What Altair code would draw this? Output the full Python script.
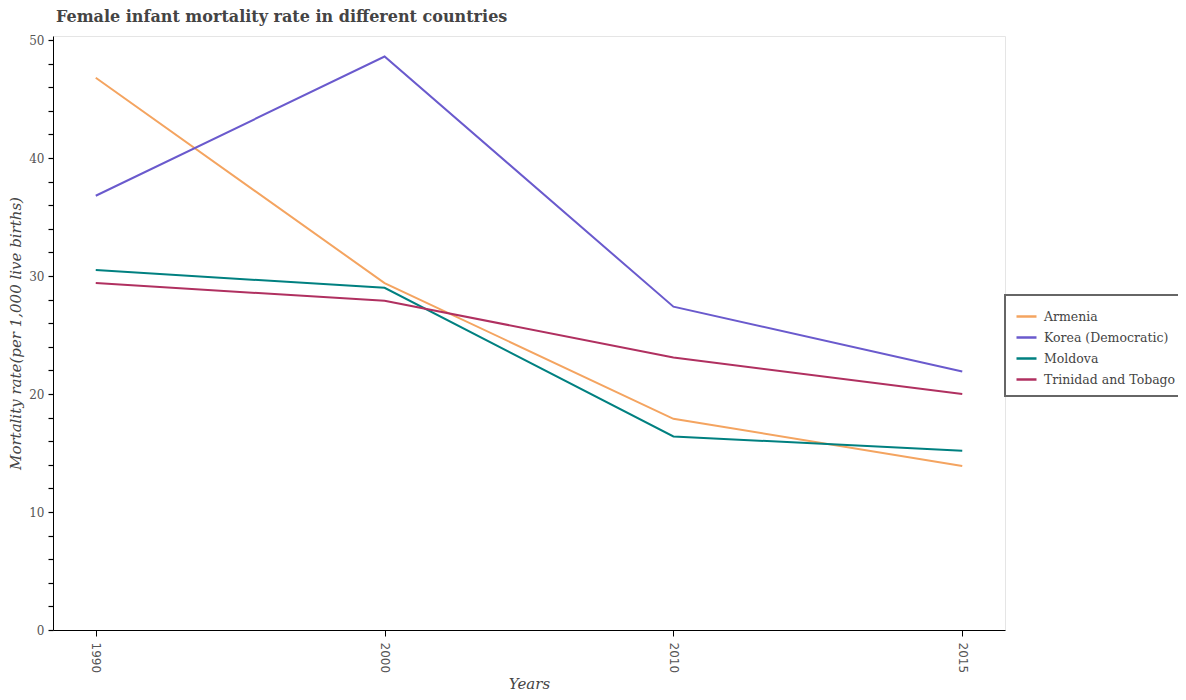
import altair as alt
import pandas as pd

years = ["1990", "2000", "2010", "2015"]
countries = ["Armenia", "Korea (Democratic)", "Moldova", "Trinidad and Tobago"]
armenia = [46.8, 29.4, 17.9, 13.9]
korea = [36.8, 48.6, 27.4, 21.9]
moldova = [30.5, 29.0, 16.4, 15.2]
trinidad = [29.4, 27.9, 23.1, 20.0]
colors = ["#f4a460", "#6a5acd", "#008080", "#b03060"]
tick_values = list(range(0, 51, 2))

rows = []
for name, vals in zip(countries, [armenia, korea, moldova, trinidad]):
    for yr, v in zip(years, vals):
        rows.append({"Year": yr, "Country": name, "Rate": v})
df = pd.DataFrame(rows)

serif = "DejaVu Serif"

chart = alt.Chart(df).mark_line(strokeWidth=2).encode(
    x=alt.X("Year:O", sort=years,
            scale=alt.Scale(type="point", padding=0.148),
            axis=alt.Axis(title="Years", labelAngle=90, labelAlign="left",
                          labelBaseline="middle", labelFont="DejaVu Sans",
                          labelFontSize=12, labelColor="#555", labelPadding=6,
                          tickSize=6, tickColor="#000", domainColor="#000",
                          titleFont=serif, titleFontStyle="italic",
                          titleFontWeight="normal", titleFontSize=15,
                          titleColor="#444", titlePadding=4)),
    y=alt.Y("Rate:Q", scale=alt.Scale(domain=[0, 50.34], nice=False),
            title="Mortality rate(per 1,000 live births)",
            axis=alt.Axis(values=tick_values,
                          labelExpr="datum.value % 10 == 0 ? datum.label : ''",
                          labelOverlap=False, grid=False, labelFont=serif,
                          labelFontSize=12, labelColor="#555", labelPadding=4,
                          tickSize=5, tickWidth=1.2, tickColor="#000",
                          domainColor="#000", titleFont=serif,
                          titleFontStyle="italic", titleFontWeight="normal",
                          titleFontSize=15, titleColor="#444",
                          titlePadding=5)),
    color=alt.Color("Country:N", sort=countries,
                    scale=alt.Scale(domain=countries, range=colors),
                    legend=alt.Legend(title=None, orient="none",
                                      legendX=952, legendY=259,
                                      symbolType="stroke", symbolSize=400,
                                      symbolStrokeWidth=2.5, labelFont=serif,
                                      labelFontSize=12.5, labelColor="#444",
                                      labelOffset=6, rowPadding=3, padding=10,
                                      strokeColor="#666", labelLimit=300)),
).properties(
    width=952,
    height=594,
    title=alt.TitleParams("Female infant mortality rate in different countries",
                          anchor="start", frame="group", font=serif,
                          fontSize=16, fontWeight="bold", color="#444",
                          offset=9, dx=3),
    autosize=alt.AutoSizeParams(type="none"),
    padding={"left": 45, "top": 28, "right": 173, "bottom": 62},
).configure_view(
    stroke="#e5e5e5"
).configure_legend(
    strokeWidth=2
)

chart.save("out.html", embed_options={"renderer": "svg", "actions": False})
